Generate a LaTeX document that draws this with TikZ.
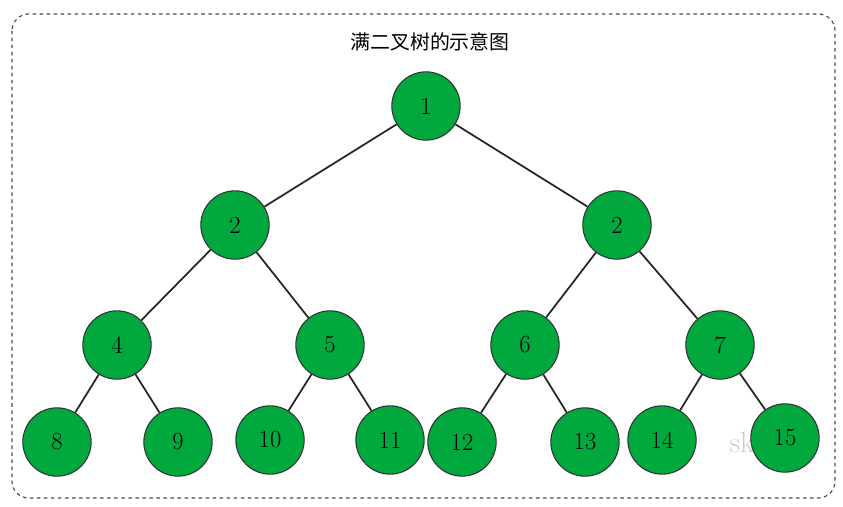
\documentclass[tikz,border=0pt]{standalone}
\usepackage{fontspec}
\newfontfamily\cjk{Noto Sans CJK SC}
\definecolor{leafgreen}{RGB}{0,168,62}
\tikzset{
  tnode/.style={circle,draw=black!80,fill=leafgreen,line width=0.9pt,minimum size=2.05cm,inner sep=0pt,font=\fontsize{21}{21}\selectfont},
  tedge/.style={draw=black!85,line width=1.5pt}
}
\begin{document}
\begin{tikzpicture}[x=0.03cm,y=-0.03cm]
        % frame and title
        \useasboundingbox (0,0) rectangle (843,507);
        \draw[dashed,black!70,line width=1pt,rounded corners=0.5cm] (12,14) rectangle (835,498);
        \node (title) at (430,42) {\cjk\fontsize{17}{17}\selectfont 满二叉树的示意图};
        \node[text=black!20,font=\fontsize{25}{25}\selectfont] (mark) at (742,442) {sk};

        % nodes
        \node[tnode] (n1) at (426,106) {1};
        \node[tnode] (n2) at (235,225) {2};
        \node[tnode] (n3) at (617,225) {2};
        \node[tnode] (n4) at (117,345) {4};
        \node[tnode] (n5) at (330,345) {5};
        \node[tnode] (n6) at (525,345) {6};
        \node[tnode] (n7) at (720,345) {7};
        \node[tnode] (n8) at (57,442) {8};
        \node[tnode] (n9) at (178,442) {9};
        \node[tnode] (n10) at (270,440) {10};
        \node[tnode] (n11) at (390,440) {11};
        \node[tnode] (n12) at (462,442) {12};
        \node[tnode] (n13) at (585,442) {13};
        \node[tnode] (n14) at (662,440) {14};
        \node[tnode] (n15) at (785,438) {15};

        % edges
        \foreach \p/\c in {n1/n2,n1/n3,n2/n4,n2/n5,n3/n6,n3/n7,n4/n8,n4/n9,n5/n10,n5/n11,n6/n12,n6/n13,n7/n14,n7/n15}
          \draw[tedge] (\p) -- (\c);
\end{tikzpicture}
\end{document}
